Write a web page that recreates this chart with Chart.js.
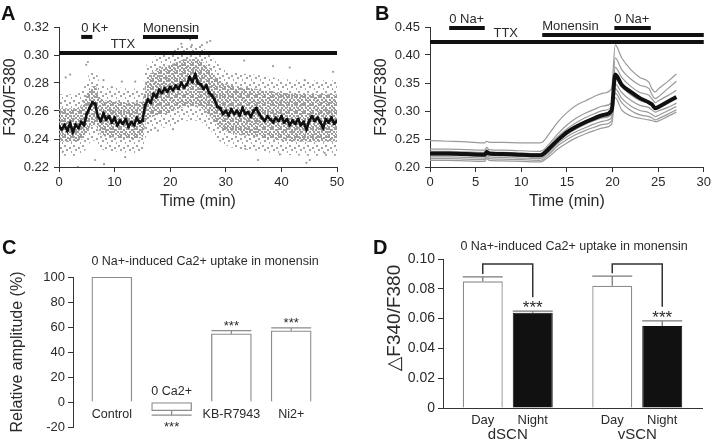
<!DOCTYPE html>
<html><head><meta charset="utf-8">
<script src="https://cdn.jsdelivr.net/npm/chart.js@4.4.0/dist/chart.umd.min.js"></script>
<style>
html,body{margin:0;padding:0;background:#fff;width:714px;height:447px;overflow:hidden}
canvas{position:absolute}
</style></head><body>
<canvas id="cA" width="357" height="224" style="left:0;top:0"></canvas>
<canvas id="cB" width="357" height="224" style="left:357px;top:0"></canvas>
<canvas id="cC" width="357" height="223" style="left:0;top:224px"></canvas>
<canvas id="cD" width="357" height="223" style="left:357px;top:224px"></canvas>
<script>
// ================= DATA =================
// ---- Panel A: single-cell ratios (grey cloud) and mean (black) ----
const A_T_STEP = 0.5; // minutes between mean samples
const A_MEAN = [
0.249,0.247,0.250,0.246,0.251,0.245,0.250,0.248,0.252,0.250,
0.258,0.262,0.266,0.265,0.256,0.253,0.258,0.254,0.256,0.252,
0.255,0.250,0.253,0.251,0.254,0.249,0.252,0.250,0.255,0.252,
0.253,0.264,0.268,0.266,0.272,0.270,0.275,0.273,0.276,0.274,
0.277,0.275,0.278,0.276,0.280,0.277,0.279,0.284,0.281,0.286,
0.280,0.279,0.276,0.278,0.273,0.271,0.268,0.263,0.262,0.258,
0.260,0.257,0.261,0.258,0.260,0.257,0.262,0.258,0.259,0.256,
0.260,0.262,0.258,0.255,0.253,0.256,0.254,0.252,0.255,0.253,
0.256,0.252,0.254,0.250,0.253,0.251,0.254,0.250,0.252,0.247,
0.253,0.256,0.253,0.255,0.252,0.248,0.254,0.252,0.255,0.251,
0.253];
const A_CLOUD_T = [0,3,4.5,5.5,6.5,7.5,10,13,15,15.6,17,20,23,25,27,29,31,35,40,45,50];
const A_CORE_LO = [0.238,0.238,0.241,0.248,0.250,0.243,0.241,0.240,0.241,0.251,0.256,0.259,0.263,0.263,0.257,0.248,0.244,0.242,0.239,0.238,0.238];
const A_CORE_HI = [0.262,0.262,0.267,0.276,0.278,0.269,0.267,0.266,0.267,0.281,0.288,0.293,0.297,0.297,0.291,0.282,0.278,0.276,0.273,0.272,0.272];
const A_HALO_LO = [0.228,0.228,0.231,0.237,0.239,0.233,0.231,0.230,0.231,0.241,0.246,0.249,0.253,0.253,0.247,0.238,0.234,0.232,0.229,0.228,0.228];
const A_HALO_HI = [0.272,0.272,0.277,0.287,0.289,0.279,0.277,0.276,0.277,0.291,0.298,0.303,0.307,0.307,0.301,0.292,0.288,0.286,0.283,0.282,0.282];
const A_OUT_T = [5.2,4.9,2.0,8.0,11.3,9.5,13.7,6.5,8.1,3.4,0.7,11.9,22.0,23.6,27.2,25.7,33.3,38.5,41.5,49.3,44.2,35.8,45.1,44.5,39.7,33.5,47.8,23.9,26.6,1.2,17.8,20.5];
const A_OUT_V = [0.295,0.293,0.286,0.282,0.281,0.277,0.281,0.225,0.222,0.220,0.231,0.227,0.308,0.311,0.310,0.307,0.296,0.292,0.291,0.288,0.282,0.225,0.225,0.223,0.229,0.233,0.230,0.307,0.309,0.284,0.246,0.247];
const A_PERIOD_NAMES = ['0 K+','Monensin','TTX'];
const A_PERIOD_START = [4.0,15.1,0];
const A_PERIOD_END   = [6.0,25.0,50];

// ---- Panel B: individual traces (grey) and mean (black) ----
const B_T = [0,2,4,6,6.2,6.5,8,10,12,12.3,13,14,15,16,17,18,19,19.9,20.3,21,22,23,24,24.3,24.7,25,26,27];
const B_MEAN = [0.224,0.224,0.223,0.222,0.227,0.224,0.223,0.222,0.221,0.222,0.232,0.248,0.262,0.272,0.280,0.287,0.293,0.301,0.365,0.347,0.334,0.323,0.315,0.312,0.305,0.307,0.316,0.325];
const B_TRACE1 = [0.247,0.246,0.245,0.243,0.246,0.244,0.244,0.243,0.243,0.244,0.258,0.280,0.297,0.310,0.318,0.326,0.332,0.340,0.418,0.395,0.374,0.360,0.351,0.340,0.334,0.339,0.352,0.366];
const B_TRACE2 = [0.232,0.232,0.231,0.230,0.235,0.231,0.230,0.229,0.228,0.229,0.240,0.259,0.275,0.287,0.296,0.303,0.309,0.315,0.395,0.374,0.357,0.346,0.340,0.330,0.322,0.325,0.339,0.353];
const B_TRACE3 = [0.228,0.228,0.227,0.226,0.231,0.227,0.226,0.225,0.224,0.225,0.236,0.254,0.268,0.279,0.288,0.295,0.301,0.308,0.378,0.360,0.344,0.333,0.328,0.322,0.315,0.318,0.327,0.337];
const B_TRACE4 = [0.225,0.225,0.224,0.223,0.228,0.225,0.224,0.223,0.222,0.223,0.233,0.250,0.264,0.274,0.282,0.289,0.295,0.302,0.358,0.343,0.329,0.319,0.314,0.310,0.304,0.306,0.314,0.322];
const B_TRACE5 = [0.221,0.221,0.220,0.219,0.224,0.221,0.220,0.219,0.218,0.219,0.229,0.246,0.258,0.268,0.276,0.283,0.288,0.294,0.348,0.333,0.319,0.310,0.306,0.302,0.298,0.300,0.306,0.314];
const B_TRACE6 = [0.218,0.218,0.217,0.216,0.221,0.218,0.217,0.216,0.215,0.216,0.226,0.242,0.254,0.263,0.270,0.277,0.282,0.288,0.340,0.323,0.309,0.301,0.297,0.294,0.290,0.292,0.300,0.308];
const B_TRACE7 = [0.215,0.215,0.214,0.213,0.218,0.215,0.214,0.213,0.212,0.213,0.222,0.238,0.249,0.258,0.265,0.271,0.276,0.282,0.332,0.315,0.301,0.293,0.290,0.288,0.284,0.286,0.294,0.302];
const B_TRACE8 = [0.212,0.212,0.211,0.210,0.215,0.212,0.211,0.210,0.209,0.210,0.218,0.232,0.243,0.252,0.259,0.265,0.270,0.276,0.324,0.302,0.291,0.287,0.284,0.283,0.281,0.282,0.290,0.298];
const B_PERIOD_NAMES = ['0 Na+','Monensin','0 Na+','TTX'];
const B_PERIOD_START = [2.1,12.3,20.2,0];
const B_PERIOD_END   = [6.0,30,24.2,30];

// ---- Panel C ----
const C_CATS = ['Control','0 Ca2+','KB-R7943','Ni2+'];
const C_VALS = [100,-7,54.5,57];
const C_ERRS = [0,3.5,2.6,2.3];
const C_SIG  = ['','***','***','***'];
const C_TITLE = '0 Na+-induced Ca2+ uptake in monensin';

// ---- Panel D ----
const D_GROUPS = ['dSCN','vSCN'];
const D_SERIES = ['Day','Night'];
const D_DAY = [0.085,0.082];
const D_NIGHT = [0.064,0.055];
const D_DAY_ERR = [0.003,0.0065];
const D_NIGHT_ERR = [0.001,0.0035];
const D_SIG = ['***','***'];
const D_TITLE = '0 Na+-induced Ca2+ uptake in monensin';
const D_Y_TITLE = '\u25B3F340/F380';

// ================= STYLE / HELPERS =================
const FONT = "'Liberation Sans', Arial, 'DejaVu Sans', sans-serif";
const INK = '#2a2a2a';
const AX = '#333';
Chart.defaults.font.family = FONT;
Chart.defaults.color = INK;
Chart.defaults.animation = false;
Chart.defaults.events = [];
Chart.defaults.plugins.legend.display = false;
Chart.defaults.plugins.tooltip.enabled = false;

function pts(xs, ys){ return ys.map((v,i)=>({x:xs[i], y:v})); }
function pattern(size, dots, color){
  const c = document.createElement('canvas'); c.width = size; c.height = size;
  const g = c.getContext('2d'); g.fillStyle = color;
  dots.forEach(d => g.fillRect(d[0], d[1], 2, 2));
  return g.createPattern(c, 'repeat');
}
const densePat = pattern(8, [[0,0],[3,1],[6,0],[1,3],[5,3],[3,5],[7,5],[0,6],[5,7]], '#9a9a9a');
const sparsePat = pattern(9, [[1,1],[6,3],[3,5],[8,7]], '#a4a4a4');

function axisStyle(){
  return {
    grid:{display:true, drawOnChartArea:false, drawTicks:true, tickLength:5, color:AX, lineWidth:1},
    border:{display:true, color:AX, width:1}
  };
}

const textPlugin = {
  id:'statictext',
  afterDraw(chart, args, o){
    const ctx = chart.ctx;
    (o.items||[]).forEach(it=>{
      ctx.save();
      ctx.font = it.font; ctx.fillStyle = it.color || INK;
      ctx.textAlign = it.align || 'left'; ctx.textBaseline = it.baseline || 'alphabetic';
      ctx.translate(it.x, it.y);
      if (it.rotate) ctx.rotate(it.rotate);
      ctx.fillText(it.text, 0, 0);
      ctx.restore();
    });
  }
};

const periodsPlugin = {
  id:'periods',
  afterDatasetsDraw(chart, args, o){
    const {ctx, scales:{x, y}} = chart;
    ctx.save();
    o.names.forEach((name,i)=>{
      const x0 = x.getPixelForValue(o.start[i]), x1 = x.getPixelForValue(o.end[i]);
      const yy = y.getPixelForValue(o.levels[i]);
      ctx.strokeStyle = '#111'; ctx.lineWidth = o.lineWidth; ctx.lineCap = 'butt';
      ctx.beginPath(); ctx.moveTo(x0, yy); ctx.lineTo(x1, yy); ctx.stroke();
      ctx.fillStyle = INK; ctx.font = '13px ' + FONT; ctx.textBaseline = 'middle';
      const la = o.labelAt[i];
      if (la != null){ ctx.textAlign = 'center'; ctx.fillText(name, x.getPixelForValue(la), yy - o.gap); }
      else { ctx.textAlign = 'left'; ctx.fillText(name, x0, yy - o.gap); }
    });
    ctx.restore();
  }
};

const errBarPlugin = {
  id:'errbars',
  afterDatasetsDraw(chart, args, o){
    const {ctx} = chart; const y = chart.scales.y;
    ctx.save();
    o.errors.forEach((errs, di)=>{
      const meta = chart.getDatasetMeta(di);
      const vals = o.values[di];
      meta.data.forEach((bar, i)=>{
        const e = errs[i]; const v = vals[i];
        const sig = o.sig[di] ? o.sig[di][i] : '';
        const end = v >= 0 ? v + e : v - e;
        const yEnd = y.getPixelForValue(end);
        const half = bar.width/2;
        if (e){
          ctx.strokeStyle = o.color; ctx.lineWidth = o.width;
          ctx.beginPath(); ctx.moveTo(bar.x, bar.y); ctx.lineTo(bar.x, yEnd);
          ctx.moveTo(bar.x-half, yEnd); ctx.lineTo(bar.x+half, yEnd); ctx.stroke();
        }
        if (sig){
          ctx.fillStyle = INK; ctx.font = o.starSize + 'px ' + FONT;
          ctx.textAlign = 'center'; ctx.textBaseline = 'alphabetic';
          const yc = v >= 0 ? yEnd - o.starGap : yEnd + o.starGap;
          ctx.fillText(sig, bar.x, yc + 0.58*o.starSize);
        }
      });
    });
    ctx.restore();
  }
};

// ================= PANEL A =================
new Chart(document.getElementById('cA'), {
  type:'line',
  data:{datasets:[
    {data:pts(A_CLOUD_T, A_HALO_LO), borderColor:'rgba(0,0,0,0)', pointRadius:0, fill:false, cubicInterpolationMode:'monotone', order:4},
    {data:pts(A_CLOUD_T, A_HALO_HI), borderColor:'rgba(0,0,0,0)', pointRadius:0, fill:'-1', backgroundColor:sparsePat, cubicInterpolationMode:'monotone', order:4},
    {data:pts(A_CLOUD_T, A_CORE_LO), borderColor:'rgba(0,0,0,0)', pointRadius:0, fill:false, cubicInterpolationMode:'monotone', order:3},
    {data:pts(A_CLOUD_T, A_CORE_HI), borderColor:'rgba(0,0,0,0)', pointRadius:0, fill:'-1', backgroundColor:densePat, cubicInterpolationMode:'monotone', order:3},
    {data:pts(A_OUT_T, A_OUT_V), showLine:false, pointRadius:1.1, pointBackgroundColor:'#9a9a9a', pointBorderWidth:0, order:2},
    {data:A_MEAN.map((v,i)=>({x:i*A_T_STEP, y:v})), borderColor:'#111', borderWidth:2.6, pointRadius:2, pointStyle:'rect', pointBackgroundColor:'#111', pointBorderWidth:0, order:1}
  ]},
  options:{
    responsive:false,
    layout:{padding:{left:1, top:27, right:20, bottom:13}},
    scales:{
      x:Object.assign({type:'linear', min:0, max:50, afterFit:s=>{s.height=44;},
        ticks:{stepSize:10, font:{size:13}, padding:3, maxRotation:0, color:INK},
        title:{display:true, text:'Time (min)', font:{size:16}, padding:0, color:INK}}, axisStyle()),
      y:Object.assign({type:'linear', min:0.22, max:0.32, afterFit:s=>{s.width=58;},
        ticks:{stepSize:0.02, callback:v=>v.toFixed(2), font:{size:13}, padding:5, color:INK},
        title:{display:true, text:'F340/F380', font:{size:16}, padding:0, color:INK}}, axisStyle())
    },
    plugins:{
      periods:{names:A_PERIOD_NAMES, start:A_PERIOD_START, end:A_PERIOD_END, levels:[0.3129,0.3129,0.3014], labelAt:[null,null,11.5], lineWidth:4, gap:9},
      statictext:{items:[{text:'A', x:1, y:20, font:'bold 20px '+FONT, color:'#111'}]}
    }
  },
  plugins:[periodsPlugin, textPlugin]
});

// ================= PANEL B =================
const B_TRACES = [B_TRACE1,B_TRACE2,B_TRACE3,B_TRACE4,B_TRACE5,B_TRACE6,B_TRACE7,B_TRACE8];
new Chart(document.getElementById('cB'), {
  type:'line',
  data:{datasets:[
    ...B_TRACES.map(tr=>({data:pts(B_T,tr), borderColor:'#9a9a9a', borderWidth:1.2, pointRadius:0, fill:false, cubicInterpolationMode:'monotone', order:2})),
    {data:pts(B_T,B_MEAN), borderColor:'#111', borderWidth:4, pointRadius:0, fill:false, cubicInterpolationMode:'monotone', order:1}
  ]},
  options:{
    responsive:false,
    layout:{padding:{left:15, top:27, right:6, bottom:13}},
    scales:{
      x:Object.assign({type:'linear', min:0, max:30, afterFit:s=>{s.height=44;},
        ticks:{stepSize:5, font:{size:13}, padding:3, maxRotation:0, color:INK},
        title:{display:true, text:'Time (min)', font:{size:16}, padding:0, color:INK}}, axisStyle()),
      y:Object.assign({type:'linear', min:0.20, max:0.45, afterFit:s=>{s.width=58;},
        ticks:{stepSize:0.05, callback:v=>v.toFixed(2), font:{size:13}, padding:5, color:INK},
        title:{display:true, text:'F340/F380', font:{size:16}, padding:0, color:INK}}, axisStyle())
    },
    plugins:{
      periods:{names:B_PERIOD_NAMES, start:B_PERIOD_START, end:B_PERIOD_END, levels:[0.448,0.4357,0.448,0.4232], labelAt:[null,null,null,8.3], lineWidth:4, gap:9},
      statictext:{items:[{text:'B', x:18, y:20, font:'bold 20px '+FONT, color:'#111'}]}
    }
  },
  plugins:[periodsPlugin, textPlugin]
});

// ================= PANEL C =================
const cLabelPlugin = {
  id:'clabels',
  afterDatasetsDraw(chart){
    const {ctx} = chart; const y = chart.scales.y; const y0 = y.getPixelForValue(0);
    const meta = chart.getDatasetMeta(0);
    ctx.save(); ctx.fillStyle = INK; ctx.font = '12.5px ' + FONT; ctx.textAlign = 'center'; ctx.textBaseline = 'middle';
    meta.data.forEach((bar,i)=>{
      ctx.fillText(C_CATS[i], bar.x, C_VALS[i] >= 0 ? y0 + 12.5 : y0 - 10.5);
    });
    ctx.restore();
  }
};
new Chart(document.getElementById('cC'), {
  type:'bar',
  data:{datasets:[{
    data:C_VALS.map((v,i)=>({x:i+1, y:v})),
    backgroundColor:'#fff', borderColor:'#8c8c8c', borderWidth:1.3, barThickness:40,
    borderSkipped:(c)=> (c.raw && c.raw.y < 0) ? false : 'start'
  }]},
  options:{
    responsive:false,
    layout:{autoPadding:false, padding:{left:8, top:53, right:24, bottom:20}},
    scales:{
      x:{type:'linear', display:false, offset:false, grid:{offset:false}, min:0.35, max:4.7},
      y:Object.assign({type:'linear', min:-20, max:100, afterFit:s=>{s.width=65;},
        ticks:{stepSize:20, font:{size:13}, padding:3, color:INK},
        title:{display:true, text:'Relative amplitude (%)', font:{size:16}, padding:0, color:INK}}, axisStyle())
    },
    plugins:{
      errbars:{errors:[C_ERRS], values:[C_VALS], sig:[C_SIG], color:'#8c8c8c', width:1.3, starGap:8, starSize:13},
      statictext:{items:[
        {text:'C', x:2, y:30, font:'bold 20px '+FONT, color:'#111'},
        {text:C_TITLE, x:205, y:38, font:'12.5px '+FONT, align:'center', baseline:'middle'}
      ]}
    }
  },
  plugins:[errBarPlugin, cLabelPlugin, textPlugin]
});

// ================= PANEL D =================
const dPlugin = {
  id:'dextras',
  afterDatasetsDraw(chart, args, o){
    const {ctx, chartArea} = chart; const y = chart.scales.y;
    const mDay = chart.getDatasetMeta(0), mNight = chart.getDatasetMeta(1);
    ctx.save();
    ctx.fillStyle = INK; ctx.font = '13px ' + FONT; ctx.textAlign = 'center'; ctx.textBaseline = 'middle';
    [mDay, mNight].forEach((m, di)=> m.data.forEach(bar => ctx.fillText(D_SERIES[di], bar.x, chartArea.bottom + 12.5)));
    const top = y.getPixelForValue(o.level);
    ctx.strokeStyle = '#333'; ctx.lineWidth = 1.5;
    D_GROUPS.forEach((g,i)=>{
      const a = mDay.data[i], b = mNight.data[i];
      const capA = y.getPixelForValue(D_DAY[i] + D_DAY_ERR[i]);
      const capB = y.getPixelForValue(D_NIGHT[i] + D_NIGHT_ERR[i]);
      ctx.beginPath();
      ctx.moveTo(a.x, capA - 3); ctx.lineTo(a.x, top); ctx.lineTo(b.x, top); ctx.lineTo(b.x, capB - o.starGap - 6);
      ctx.stroke();
    });
    ctx.restore();
  }
};
new Chart(document.getElementById('cD'), {
  type:'bar',
  data:{labels:D_GROUPS, datasets:[
    {label:D_SERIES[0], data:D_DAY, backgroundColor:'#fff', borderColor:'#8c8c8c', borderWidth:1.3, borderSkipped:'start', categoryPercentage:0.772, barPercentage:0.8},
    {label:D_SERIES[1], data:D_NIGHT, backgroundColor:'#111', borderColor:'#111', borderWidth:1, borderSkipped:'start', categoryPercentage:0.772, barPercentage:0.8}
  ]},
  options:{
    responsive:false,
    layout:{padding:{left:27, top:35, right:12, bottom:0}},
    scales:{
      x:{type:'category', offset:true, afterFit:s=>{s.height=39;},
        grid:{display:false, drawTicks:false}, border:{display:true, color:AX, width:1},
        ticks:{font:{size:15}, padding:18, color:INK}},
      y:Object.assign({type:'linear', min:0, max:0.1, afterFit:s=>{s.width=59;},
        ticks:{stepSize:0.02, callback:v=> v===0 ? '0' : v.toFixed(2), font:{size:14}, padding:3, color:INK}}, axisStyle())
    },
    plugins:{
      errbars:{errors:[D_DAY_ERR, D_NIGHT_ERR], values:[D_DAY, D_NIGHT], sig:[null, D_SIG], color:'#7a7a7a', width:1.3, starGap:8, starSize:17},
      dextras:{level:0.0967, starGap:8},
      statictext:{items:[
        {text:'D', x:16, y:30, font:'bold 20px '+FONT, color:'#111'},
        {text:D_TITLE, x:217, y:23, font:'12.5px '+FONT, align:'center', baseline:'middle'},
        {text:D_Y_TITLE, x:38, y:94, font:'19px '+FONT, align:'center', baseline:'middle', rotate:-Math.PI/2}
      ]}
    }
  },
  plugins:[errBarPlugin, dPlugin, textPlugin]
});
</script>
</body></html>
